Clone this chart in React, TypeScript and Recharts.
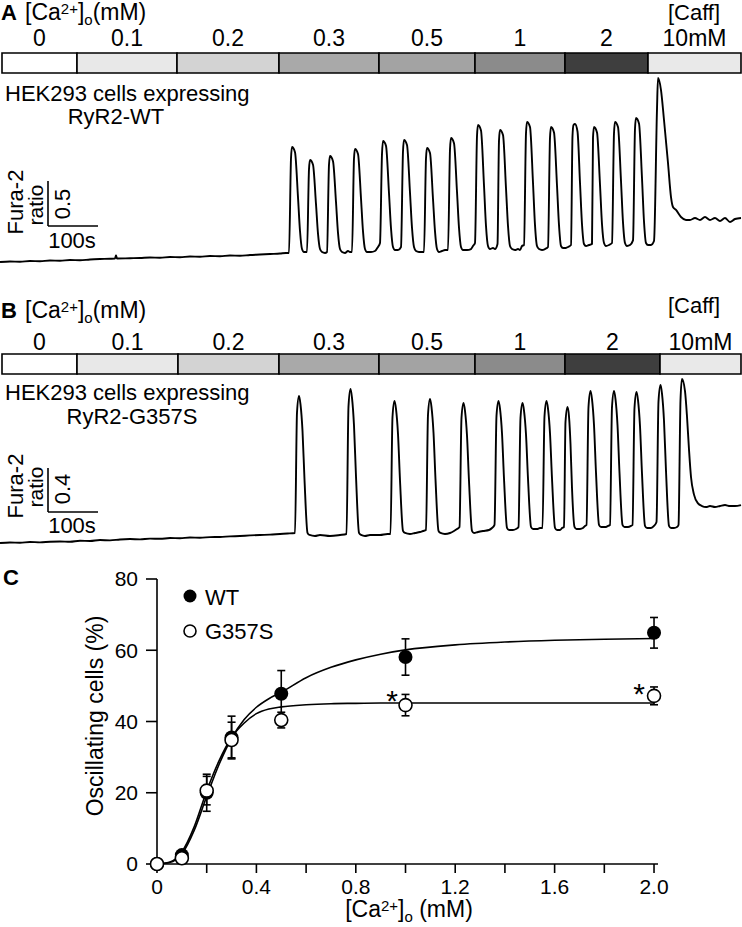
import React from 'react';
import {
  LineChart, Line, XAxis, YAxis, ReferenceLine, ReferenceArea,
  ComposedChart, Scatter, ErrorBar,
} from 'recharts';

const FONT = 'Arial, "Liberation Sans", Helvetica, sans-serif';

// ---------- concentration bars ----------
const caLabels = ['0', '0.1', '0.2', '0.3', '0.5', '1', '2', '10mM'];
const segFills = ['#ffffff', '#e8e8e8', '#d3d3d3', '#a9a9a9', '#a3a3a3', '#8b8b8b', '#3e3e3e', '#e9e9e9'];
// segment edges (s)
const segEdgesA = [4, 154, 354, 558, 758, 950, 1130, 1296, 1482];
const segEdgesB = [4, 154, 356, 558, 758, 950, 1130, 1320, 1482];

// ---------- traces: [time (s), Fura-2 ratio] ----------
const traceAPoints: [number, number][] = [
  [0, 0.800], [20, 0.806], [40, 0.803], [60, 0.811], [80, 0.808], [100, 0.817], [120, 0.814], [140, 0.822],
  [160, 0.819], [180, 0.828], [200, 0.833], [220, 0.836], [230, 0.839], [232, 0.872], [234, 0.839], [260, 0.842],
  [280, 0.844], [300, 0.850], [320, 0.847], [340, 0.856], [360, 0.853], [380, 0.861], [400, 0.858], [420, 0.867],
  [440, 0.864], [460, 0.872], [480, 0.869], [500, 0.878], [520, 0.883], [540, 0.889], [560, 0.894], [572, 0.900],
  [578, 0.900], [582, 1.950], [584, 2.078], [590, 2.020], [596, 1.518], [600, 1.144], [604, 0.944], [608, 0.911],
  [614, 0.911], [618, 1.830], [620, 1.933], [626, 1.880], [632, 1.443], [636, 1.115], [640, 0.944], [644, 0.911],
  [650, 0.900], [654, 0.911], [658, 1.880], [660, 1.978], [666, 1.920], [672, 1.466], [676, 1.124], [680, 0.944], [684, 0.911],
  [690, 0.900], [696, 0.922], [700, 0.911], [704, 0.911], [708, 1.950], [710, 2.056], [716, 2.000], [722, 1.506], [726, 1.140], [730, 0.944], [734, 0.911],
  [742, 0.911], [750, 0.922], [756, 0.967], [760, 1.011], [764, 2.000], [766, 2.144], [772, 2.090], [778, 1.564], [782, 1.175], [786, 0.966], [790, 0.933],
  [796, 0.933], [802, 0.967], [806, 2.030], [808, 2.156], [814, 2.100], [820, 1.570], [824, 1.180], [828, 0.966], [832, 0.922],
  [838, 0.911], [848, 0.911], [852, 1.950], [854, 2.067], [860, 2.010], [866, 1.500], [870, 1.140], [874, 0.944], [878, 0.911],
  [884, 0.922], [890, 0.933], [896, 0.933], [900, 2.050], [902, 2.178], [908, 2.120], [914, 1.580], [918, 1.180], [922, 0.966], [926, 0.933],
  [934, 0.933], [942, 0.944], [946, 0.978], [950, 1.011], [954, 2.200], [956, 2.322], [962, 2.260], [968, 1.650], [972, 1.200], [976, 0.978], [980, 0.944],
  [986, 0.956], [990, 0.944], [995, 1.000], [998, 2.150], [1000, 2.267], [1006, 2.210], [1012, 1.620], [1016, 1.200], [1020, 0.978], [1024, 0.944],
  [1030, 0.933], [1036, 0.944], [1040, 0.933], [1044, 0.978], [1048, 0.989], [1052, 2.230], [1054, 2.356], [1060, 2.300], [1066, 1.680], [1070, 1.210], [1074, 0.978], [1078, 0.944],
  [1084, 0.933], [1090, 0.944], [1096, 0.967], [1100, 2.180], [1102, 2.300], [1108, 2.240], [1114, 1.650], [1118, 1.210], [1122, 0.978], [1126, 0.956],
  [1132, 0.956], [1136, 0.967], [1142, 0.989], [1145, 2.200], [1147, 2.322], [1150, 2.333], [1155, 2.250], [1160, 1.680], [1164, 1.220], [1168, 1.000], [1172, 0.978],
  [1178, 0.989], [1184, 1.000], [1186, 2.180], [1188, 2.300], [1194, 2.240], [1200, 1.660], [1204, 1.220], [1208, 1.011], [1212, 0.978],
  [1218, 0.989], [1224, 1.011], [1228, 2.230], [1230, 2.356], [1236, 2.300], [1242, 1.700], [1246, 1.240], [1250, 1.011], [1254, 0.978],
  [1260, 0.989], [1266, 1.040], [1270, 2.280], [1272, 2.400], [1278, 2.340], [1284, 1.730], [1288, 1.250], [1292, 1.011], [1296, 0.989],
  [1302, 0.989], [1308, 1.033], [1314, 2.500], [1316, 2.844], [1322, 2.711], [1328, 2.378], [1336, 1.900], [1342, 1.522], [1346, 1.411], [1352, 1.378], [1362, 1.300], [1372, 1.267],
  [1380, 1.267], [1390, 1.289], [1400, 1.267], [1410, 1.300], [1420, 1.267], [1430, 1.289], [1440, 1.256], [1450, 1.289], [1460, 1.244], [1470, 1.278], [1482, 1.289],
];

const traceBPoints: [number, number][] = [
  [0, 0.800], [20, 0.805], [40, 0.802], [60, 0.809], [80, 0.806], [100, 0.812], [120, 0.814], [140, 0.811],
  [160, 0.820], [180, 0.818], [200, 0.827], [220, 0.824], [240, 0.832], [260, 0.836], [280, 0.833], [300, 0.840],
  [320, 0.838], [340, 0.845], [360, 0.843], [380, 0.850], [400, 0.848], [420, 0.853], [440, 0.855], [460, 0.860],
  [480, 0.864], [500, 0.869], [520, 0.873], [540, 0.876], [560, 0.882], [575, 0.886], [590, 0.891],
  [594, 1.986], [598, 2.136], [601, 2.060], [605, 1.820], [609, 1.378], [615, 0.893], [619, 0.873],
  [630, 0.864], [640, 0.873], [660, 0.864], [680, 0.873], [693, 0.882],
  [697, 2.042], [701, 2.200], [704, 2.120], [708, 1.868], [712, 1.404], [718, 0.893], [722, 0.873],
  [730, 0.864], [740, 0.873], [760, 0.873], [775, 0.882], [781, 0.882],
  [785, 1.946], [789, 2.091], [792, 2.019], [796, 1.791], [800, 1.371], [806, 0.911], [810, 0.891],
  [820, 0.882], [830, 0.891], [840, 0.900], [846, 0.909], [852, 0.918],
  [856, 1.966], [860, 2.109], [863, 2.036], [867, 1.804], [871, 1.378], [877, 0.911], [881, 0.891],
  [890, 0.882], [900, 0.891], [908, 0.909], [914, 0.927], [919, 0.945],
  [923, 1.938], [927, 2.073], [930, 2.002], [934, 1.777], [938, 1.364], [944, 0.911], [948, 0.891],
  [956, 0.900], [966, 0.909], [978, 0.918], [984, 0.936], [989, 0.964],
  [993, 1.956], [997, 2.091], [1000, 2.021], [1004, 1.798], [1008, 1.387], [1014, 0.938], [1018, 0.918],
  [1026, 0.918], [1032, 0.927], [1037, 0.945],
  [1041, 1.938], [1045, 2.073], [1048, 2.004], [1052, 1.787], [1056, 1.385], [1062, 0.947], [1066, 0.927],
  [1074, 0.927], [1080, 0.936], [1085, 0.936],
  [1089, 1.952], [1093, 2.091], [1096, 2.021], [1100, 1.798], [1104, 1.387], [1110, 0.938], [1114, 0.918],
  [1120, 0.918], [1124, 0.936], [1128, 0.945],
  [1131, 1.900], [1135, 2.036], [1138, 1.950], [1141, 1.700], [1144, 1.300], [1149, 0.947], [1153, 0.927],
  [1160, 0.927], [1166, 0.936], [1170, 0.955], [1173, 0.964],
  [1177, 2.036], [1181, 2.182], [1184, 2.108], [1188, 1.873], [1192, 1.440], [1198, 0.965], [1202, 0.945],
  [1210, 0.945], [1216, 0.955], [1220, 0.964],
  [1224, 2.036], [1228, 2.182], [1231, 2.108], [1235, 1.873], [1239, 1.440], [1245, 0.965], [1249, 0.945],
  [1256, 0.945], [1262, 0.955], [1265, 0.964],
  [1269, 2.028], [1273, 2.173], [1276, 2.099], [1280, 1.864], [1284, 1.431], [1290, 0.956], [1294, 0.936],
  [1302, 0.936], [1308, 0.955], [1313, 0.991],
  [1317, 2.087], [1321, 2.236], [1324, 2.158], [1328, 1.911], [1332, 1.456], [1338, 0.956], [1342, 0.936],
  [1348, 0.936], [1354, 0.945], [1357, 0.964],
  [1361, 2.100], [1364, 2.291], [1370, 2.180], [1374, 1.950], [1378, 1.650], [1382, 1.400], [1388, 1.240], [1396, 1.160], [1404, 1.136], [1412, 1.127],
  [1420, 1.136], [1430, 1.127], [1440, 1.136], [1450, 1.145], [1460, 1.136], [1470, 1.136], [1482, 1.145],
];

// ---------- panel C ----------
const caConc = [0, 0.1, 0.2, 0.3, 0.5, 1.0, 2.0];
const wtMean = [0, 2.5, 20.0, 35.5, 47.8, 58.1, 64.9];
const wtSem = [0, 1.0, 5.2, 6.0, 6.5, 5.1, 4.3];
const g357sMean = [0, 1.6, 20.6, 34.8, 40.4, 44.6, 47.2];
const g357sSem = [0, 1.0, 4.0, 5.0, 2.2, 3.0, 2.5];

const fitX = [0, 0.05, 0.1, 0.15, 0.2, 0.25, 0.3, 0.35, 0.4, 0.45, 0.5, 0.6, 0.7, 0.8, 0.9, 1.0, 1.2, 1.4, 1.6, 1.8, 2.0];
const wtFitY = [0, 0.4, 2.8, 9.5, 19.0, 28.0, 35.3, 40.5, 44.0, 46.4, 48.2, 52.3, 55.2, 57.3, 58.9, 60.1, 61.5, 62.3, 62.8, 63.1, 63.3];
const g357sFitY = [0, 0.5, 3.4, 10.5, 20.5, 29.0, 35.5, 39.5, 42.2, 43.5, 44.1, 44.7, 45.0, 45.1, 45.2, 45.2, 45.2, 45.2, 45.2, 45.2, 45.2];

const xTicks = [0, 0.2, 0.4, 0.6, 0.8, 1.0, 1.2, 1.4, 1.6, 1.8, 2.0];
const xTickLabels = ['0', '', '0.4', '', '0.8', '', '1.2', '', '1.6', '', '2.0'];
const yTicks = [0, 20, 40, 60, 80];

const traceA = traceAPoints.map(([t, r]) => ({ t, r }));
const traceB = traceBPoints.map(([t, r]) => ({ t, r }));
const wtData = caConc.map((x, i) => ({ x, y: wtMean[i], e: wtSem[i] }));
const g357sData = caConc.map((x, i) => ({ x, y: g357sMean[i], e: g357sSem[i] }));
const wtFit = fitX.map((x, i) => ({ x, y: wtFitY[i] }));
const g357sFit = fitX.map((x, i) => ({ x, y: g357sFitY[i] }));

const T_MAX = 1484;

function ConcBar({ edges, barTop, labelOffset }: { edges: number[]; barTop: number; labelOffset: number }) {
  // invisible guide series so the chart resolves its axes
  const data = edges.map((t) => ({ t, v: 0.5 }));
  return (
    <ComposedChart width={742} height={barTop + 21} data={data} margin={{ top: barTop, right: 0, bottom: 1, left: 0 }}>
      <XAxis type="number" dataKey="t" domain={[0, T_MAX]} hide />
      <YAxis type="number" domain={[0, 1]} hide />
      <Line dataKey="v" stroke="none" dot={false} isAnimationActive={false} />
      {caLabels.map((lab, i) => (
        <ReferenceArea
          key={lab}
          x1={edges[i]}
          x2={edges[i + 1]}
          y1={0}
          y2={1}
          fill={segFills[i]}
          fillOpacity={1}
          stroke="#000"
          strokeWidth={1.6}
          ifOverflow="visible"
          label={(p: any) => {
            const vb = p.viewBox || {};
            return (
              <text x={vb.x + vb.width / 2} y={vb.y - labelOffset} textAnchor="middle" fontSize={23} fill="#000" fontFamily={FONT}>
                {lab}
              </text>
            );
          }}
        />
      ))}
    </ComposedChart>
  );
}

function Trace({ data, height, domain, barV }: { data: { t: number; r: number }[]; height: number; domain: [number, number]; barV: [number, number] }) {
  return (
    <LineChart width={742} height={height} data={data} margin={{ top: 0, right: 0, bottom: 0, left: 0 }}>
      <XAxis type="number" dataKey="t" domain={[0, T_MAX]} hide />
      <YAxis type="number" domain={domain} hide />
      <ReferenceLine segment={[{ x: 96, y: barV[0] }, { x: 96, y: barV[1] }]} stroke="#000" strokeWidth={1.6} />
      <ReferenceLine segment={[{ x: 96, y: barV[0] }, { x: 196, y: barV[0] }]} stroke="#000" strokeWidth={1.6} />
      <Line type="monotone" dataKey="r" stroke="#000" strokeWidth={1.9} dot={false} isAnimationActive={false} strokeLinejoin="round" />
    </LineChart>
  );
}

function CaLabel({ x, y, size, sub, anchor }: { x: number; y: number; size: number; sub: string; anchor?: string }) {
  return (
    <text x={x} y={y} fontSize={size} textAnchor={anchor || 'start'}>
      [Ca<tspan dy={-6} fontSize={15}>2+</tspan>
      <tspan dy={6}>]</tspan>
      <tspan dy={5} fontSize={15}>o</tspan>
      <tspan dy={-5}>{sub}</tspan>
    </text>
  );
}

const abs = (left: number, top: number): React.CSSProperties => ({ position: 'absolute', left, top });

export default function App() {
  return (
    <div style={{ position: 'absolute', left: 0, top: 0, width: 742, height: 927, background: '#fff', fontFamily: FONT, overflow: 'hidden' }}>
      <div style={abs(0, 0)}>
        <ConcBar edges={segEdgesA} barTop={53} labelOffset={7} />
      </div>
      <div style={abs(0, 301)}>
        <ConcBar edges={segEdgesB} barTop={53} labelOffset={4} />
      </div>
      <div style={abs(0, 73)}>
        <Trace data={traceA} height={198} domain={[0.7, 2.9]} barV={[1.2, 1.7]} />
      </div>
      <div style={abs(0, 367)}>
        <Trace data={traceB} height={187} domain={[0.7, 2.4]} barV={[1.082, 1.482]} />
      </div>

      <div style={abs(0, 540)}>
        <ComposedChart width={742} height={387} margin={{ top: 39, right: 84, bottom: 33, left: 97 }}>
          <XAxis
            type="number"
            dataKey="x"
            domain={[0, 2.016]}
            ticks={xTicks}
            interval={0}
            tickFormatter={(v: number) => {
              const idx = xTicks.findIndex((t) => Math.abs(t - v) < 1e-6);
              return idx >= 0 ? xTickLabels[idx] : '';
            }}
            height={30}
            tickSize={9}
            tickMargin={6}
            axisLine={{ stroke: '#000', strokeWidth: 1.6 }}
            tickLine={{ stroke: '#000', strokeWidth: 1.6 }}
            tick={{ fill: '#000', fontSize: 21 }}
          />
          <YAxis
            type="number"
            dataKey="y"
            domain={[0, 80]}
            ticks={yTicks}
            interval={0}
            width={60}
            tickSize={11}
            tickMargin={8}
            axisLine={{ stroke: '#000', strokeWidth: 1.6 }}
            tickLine={{ stroke: '#000', strokeWidth: 1.6 }}
            tick={{ fill: '#000', fontSize: 21 }}
          />
          <Line data={wtFit} dataKey="y" type="monotone" stroke="#000" strokeWidth={1.6} dot={false} isAnimationActive={false} />
          <Line data={g357sFit} dataKey="y" type="monotone" stroke="#000" strokeWidth={1.6} dot={false} isAnimationActive={false} />
          <Scatter
            data={wtData}
            isAnimationActive={false}
            shape={(p: any) => <circle cx={p.cx} cy={p.cy} r={7} fill="#000" />}
          >
            <ErrorBar dataKey="e" direction="y" width={4} stroke="#000" strokeWidth={1.6} />
          </Scatter>
          <Scatter
            data={g357sData}
            isAnimationActive={false}
            shape={(p: any) => <circle cx={p.cx} cy={p.cy} r={6.5} fill="#fff" stroke="#000" strokeWidth={1.6} />}
          >
            <ErrorBar dataKey="e" direction="y" width={4} stroke="#000" strokeWidth={1.6} />
          </Scatter>
        </ComposedChart>
      </div>

      <svg width={742} height={927} style={{ position: 'absolute', left: 0, top: 0, pointerEvents: 'none' }} fontFamily={FONT} fill="#000">
        {/* Panel A */}
        <text x={1} y={20} fontSize={22} fontWeight="bold">A</text>
        <CaLabel x={25} y={20} size={23} sub="(mM)" />
        <text x={694} y={20} fontSize={22} textAnchor="middle">[Caff]</text>
        <text x={5} y={101} fontSize={22}>HEK293 cells expressing</text>
        <text x={116} y={124} fontSize={22} textAnchor="middle">RyR2-WT</text>
        <text transform="translate(23,202) rotate(-90)" fontSize={22} textAnchor="middle">Fura-2</text>
        <text transform="translate(43,205) rotate(-90)" fontSize={21} textAnchor="middle">ratio</text>
        <text transform="translate(70,204) rotate(-90)" fontSize={22} textAnchor="middle">0.5</text>
        <text x={72} y={248} fontSize={22} textAnchor="middle">100s</text>

        {/* Panel B */}
        <text x={1} y={318} fontSize={22} fontWeight="bold">B</text>
        <CaLabel x={25} y={318} size={23} sub="(mM)" />
        <text x={694} y={313} fontSize={22} textAnchor="middle">[Caff]</text>
        <text x={5} y={400} fontSize={22}>HEK293 cells expressing</text>
        <text x={132} y={424} fontSize={22} textAnchor="middle">RyR2-G357S</text>
        <text transform="translate(23,486) rotate(-90)" fontSize={22} textAnchor="middle">Fura-2</text>
        <text transform="translate(43,487) rotate(-90)" fontSize={21} textAnchor="middle">ratio</text>
        <text transform="translate(70,489) rotate(-90)" fontSize={22} textAnchor="middle">0.4</text>
        <text x={72} y={533} fontSize={22} textAnchor="middle">100s</text>

        {/* Panel C */}
        <text x={3} y={585} fontSize={22} fontWeight="bold">C</text>
        <circle cx={190} cy={596} r={6.5} fill="#000" />
        <text x={205} y={605} fontSize={22}>WT</text>
        <circle cx={190} cy={631} r={6} fill="#fff" stroke="#000" strokeWidth={1.6} />
        <text x={205} y={639} fontSize={22}>G357S</text>
        <text transform="translate(103,716) rotate(-90)" fontSize={23} textAnchor="middle">Oscillating cells (%)</text>
        <CaLabel x={409} y={917} size={23} sub=" (mM)" anchor="middle" />
        <text x={392} y={711} fontSize={30} textAnchor="middle">*</text>
        <text x={639} y={704} fontSize={30} textAnchor="middle">*</text>
      </svg>
    </div>
  );
}
